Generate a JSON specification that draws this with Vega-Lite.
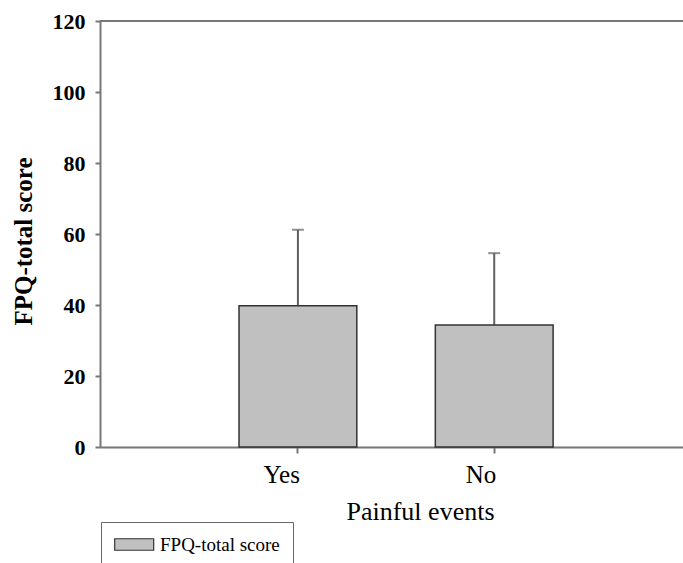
{
  "$schema": "https://vega.github.io/schema/vega-lite/v6.json",
  "width": 583,
  "height": 426,
  "autosize": {"type": "none"},
  "padding": {"left": 100, "top": 21, "right": 0, "bottom": 116},
  "background": "white",
  "config": {"view": {"stroke": null}, "font": "Liberation Serif"},
  "data": {"values": [
    {"event": "Yes", "mean": 39.8, "upper": 61.2, "series": "FPQ-total score"},
    {"event": "No", "mean": 34.4, "upper": 54.6, "series": "FPQ-total score"}
  ]},
  "layer": [
    {
      "mark": {"type": "rule", "color": "#777777", "strokeWidth": 2},
      "encoding": {"y": {"datum": 120, "type": "quantitative", "scale": {"domain": [0, 120]}}}
    },
    {
      "mark": {"type": "rule", "color": "#606060", "strokeWidth": 2},
      "encoding": {
        "x": {"field": "event", "type": "nominal", "sort": ["Yes", "No"]},
        "y": {"field": "mean", "type": "quantitative"},
        "y2": {"field": "upper"}
      }
    },
    {
      "mark": {"type": "tick", "color": "#606060", "thickness": 2, "size": 12},
      "encoding": {
        "x": {"field": "event", "type": "nominal", "sort": ["Yes", "No"]},
        "y": {"field": "upper", "type": "quantitative"}
      }
    },
    {
      "mark": {"type": "bar", "fill": "#c0c0c0", "stroke": "#333333", "strokeWidth": 1.5},
      "encoding": {
        "x": {
          "field": "event", "type": "nominal", "sort": ["Yes", "No"],
          "scale": {"paddingInner": 0.4, "paddingOuter": 0.685, "align": 0.517},
          "axis": {
            "title": "Painful events",
            "titleFont": "Liberation Serif", "titleFontSize": 26, "titleFontWeight": "normal", "titleColor": "#000000",
            "titleX": 320, "titleY": 72, "titleBaseline": "alphabetic", "titleAnchor": "middle", "titleAlign": "center",
            "labelFont": "Liberation Serif", "labelFontSize": 25, "labelColor": "#000000", "labelAngle": 0, "labelPadding": 21, "labelOffset": 2,
            "domainColor": "#777777", "domainWidth": 2, "tickColor": "#777777", "tickWidth": 2, "tickSize": 6
          }
        },
        "y": {
          "field": "mean", "type": "quantitative",
          "scale": {"domain": [0, 120]},
          "axis": {
            "title": "FPQ-total score", "values": [0, 20, 40, 60, 80, 100, 120], "grid": false,
            "titleFont": "Liberation Serif", "titleFontSize": 25, "titleFontWeight": "bold", "titleColor": "#000000",
            "titleX": -69, "titleY": 220, "titleBaseline": "alphabetic", "titleAnchor": "middle", "titleAlign": "center", "titleAngle": -90,
            "labelFont": "Liberation Serif", "labelFontSize": 22, "labelFontWeight": "bold", "labelColor": "#000000", "labelPadding": 10,
            "domainColor": "#777777", "domainWidth": 2, "tickColor": "#777777", "tickWidth": 2, "tickSize": 5
          }
        },
        "color": {
          "field": "series", "type": "nominal",
          "scale": {"range": ["#c0c0c0"]},
          "legend": {
            "title": null, "orient": "none", "legendX": 1, "legendY": 501,
            "padding": 13, "strokeColor": "#666666", "fillColor": "white",
            "symbolType": "M-3.25,-0.96H3.25V0.96H-3.25Z", "symbolSize": 144, "symbolStrokeColor": "#333333", "symbolStrokeWidth": 1.2,
            "symbolOffset": 10.7, "labelOffset": 16.3,
            "labelFont": "Liberation Serif", "labelFontSize": 19, "labelColor": "#000000"
          }
        }
      }
    }
  ]
}
